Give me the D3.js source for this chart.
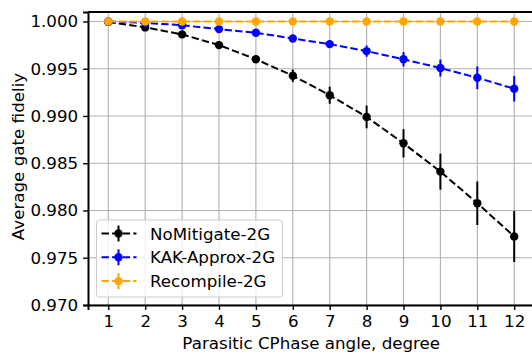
<!DOCTYPE html>
<html>
<head>
<meta charset="utf-8">
<script src="https://cdn.jsdelivr.net/npm/d3@7"></script>
<style>
  html, body { margin: 0; padding: 0; background: #fff; }
  svg { display: block; font-family: "DejaVu Sans", sans-serif; }
</style>
</head>
<body>
<div id="chart"></div>
<script>
// data
const angles = [1, 2, 3, 4, 5, 6, 7, 8, 9, 10, 11, 12];
const noMitigate = [0.99995, 0.99937, 0.99863, 0.9975, 0.9960, 0.99426, 0.9922, 0.9899, 0.98711, 0.98411, 0.98077, 0.97725];
const noMitigateErr = [0.00005, 0.0001, 0.00015, 0.0002, 0.0003, 0.00065, 0.0009, 0.0012, 0.0015, 0.0019, 0.0023, 0.0027];
const kakApprox = [1.0, 0.99985, 0.9996, 0.99919, 0.9988, 0.9982, 0.9976, 0.99686, 0.9960, 0.99507, 0.99404, 0.99288];
const kakApproxErr = [0.00002, 0.00005, 0.0001, 0.00015, 0.0002, 0.0003, 0.0004, 0.0006, 0.00076, 0.0009, 0.0012, 0.00136];
const recompile = [1.0, 1.0, 1.0, 1.0, 1.0, 1.0, 1.0, 1.0, 1.0, 1.0, 1.0, 1.0];
const recompileErr = [0, 0, 0, 0, 0, 0, 0, 0, 0, 0, 0, 0];
const yTicks = [0.970, 0.975, 0.980, 0.985, 0.990, 0.995, 1.000];
const seriesNames = ["NoMitigate-2G", "KAK-Approx-2G", "Recompile-2G"];
const seriesColors = ["#000000", "#0000ff", "#ffa500"];

const series = [
  { name: seriesNames[0], color: seriesColors[0], y: noMitigate, err: noMitigateErr },
  { name: seriesNames[1], color: seriesColors[1], y: kakApprox, err: kakApproxErr },
  { name: seriesNames[2], color: seriesColors[2], y: recompile, err: recompileErr }
];

const W = 532, H = 356;
const margin = { top: 12, right: 0, bottom: 51, left: 88 };
const plotW = 446.5, plotH = H - margin.top - margin.bottom;
const fontSize = "16.7px";
const dash = "7.4,3.2";

const svg = d3.select("#chart").append("svg")
  .attr("width", W)
  .attr("height", H);

const g = svg.append("g")
  .attr("transform", `translate(${margin.left},${margin.top})`);

const x = d3.scaleLinear().domain([0.45, 12.55]).range([0, plotW]);
const y = d3.scaleLinear().domain([0.970, 1.001]).range([plotH, 0]);

// grid
g.append("g").selectAll("line.vg")
  .data(angles).enter().append("line")
  .attr("x1", d => x(d)).attr("x2", d => x(d))
  .attr("y1", 0).attr("y2", plotH)
  .attr("stroke", "#b0b0b0").attr("stroke-width", 1.1);
g.append("g").selectAll("line.hg")
  .data(yTicks).enter().append("line")
  .attr("x1", 0).attr("x2", plotW)
  .attr("y1", d => y(d)).attr("y2", d => y(d))
  .attr("stroke", "#b0b0b0").attr("stroke-width", 1.1);

// series
const line = d3.line()
  .x((d, i) => x(angles[i]))
  .y(d => y(d));

series.forEach(s => {
  const sg = g.append("g");
  sg.append("path")
    .datum(s.y)
    .attr("d", line)
    .attr("fill", "none")
    .attr("stroke", s.color)
    .attr("stroke-width", 2)
    .attr("stroke-dasharray", dash);
  sg.selectAll("line.err")
    .data(s.y).enter().append("line")
    .attr("x1", (d, i) => x(angles[i])).attr("x2", (d, i) => x(angles[i]))
    .attr("y1", (d, i) => y(d - s.err[i])).attr("y2", (d, i) => y(d + s.err[i]))
    .attr("stroke", s.color).attr("stroke-width", 2);
  sg.selectAll("circle")
    .data(s.y).enter().append("circle")
    .attr("cx", (d, i) => x(angles[i]))
    .attr("cy", d => y(d))
    .attr("r", 4.2)
    .attr("fill", s.color);
});

// axes
const xAxis = g.append("g")
  .attr("transform", `translate(0,${plotH})`)
  .call(d3.axisBottom(x).tickValues(angles).tickSize(4.9).tickPadding(4.9).tickFormat(d3.format("d")));
const yAxis = g.append("g")
  .call(d3.axisLeft(y).tickValues(yTicks).tickSize(4.9).tickPadding(4.9).tickFormat(d3.format(".3f")));

[xAxis, yAxis].forEach(a => {
  a.selectAll("path.domain").attr("stroke", "#000").attr("stroke-width", 2);
  a.selectAll(".tick line").attr("stroke", "#000").attr("stroke-width", 1.4);
  a.selectAll(".tick text").attr("fill", "#000")
    .style("font-family", "DejaVu Sans").style("font-size", fontSize);
});
// top and right spines
g.append("line")
  .attr("x1", 0).attr("x2", plotW).attr("y1", 0).attr("y2", 0)
  .attr("stroke", "#000").attr("stroke-width", 2);
g.append("line")
  .attr("x1", plotW).attr("x2", plotW).attr("y1", 0).attr("y2", plotH)
  .attr("stroke", "#000").attr("stroke-width", 2);

// labels
svg.append("text")
  .attr("x", margin.left + x(6.5))
  .attr("y", 349)
  .attr("text-anchor", "middle")
  .style("font-size", fontSize)
  .text("Parasitic CPhase angle, degree");
svg.append("text")
  .attr("transform", `translate(24,156.5) rotate(-90)`)
  .attr("text-anchor", "middle")
  .style("font-size", fontSize)
  .text("Average gate fideliy");

// legend
const lg = svg.append("g").attr("transform", "translate(96.5,220)");
lg.append("rect")
  .attr("width", 186).attr("height", 77)
  .attr("rx", 3)
  .attr("fill", "#fff").attr("fill-opacity", 0.8)
  .attr("stroke", "#cccccc").attr("stroke-width", 1);
series.forEach((s, i) => {
  const row = lg.append("g").attr("transform", `translate(0,${13.5 + i * 23.8})`);
  row.append("line")
    .attr("x1", 5).attr("x2", 40).attr("y1", 0).attr("y2", 0)
    .attr("stroke", s.color).attr("stroke-width", 2)
    .attr("stroke-dasharray", dash);
  row.append("line")
    .attr("x1", 22).attr("x2", 22).attr("y1", -8).attr("y2", 8)
    .attr("stroke", s.color).attr("stroke-width", 2);
  row.append("circle")
    .attr("cx", 22).attr("cy", 0).attr("r", 4.2)
    .attr("fill", s.color);
  row.append("text")
    .attr("x", 53.5).attr("y", 6)
    .style("font-size", fontSize)
    .text(s.name);
});
</script>
</body>
</html>
